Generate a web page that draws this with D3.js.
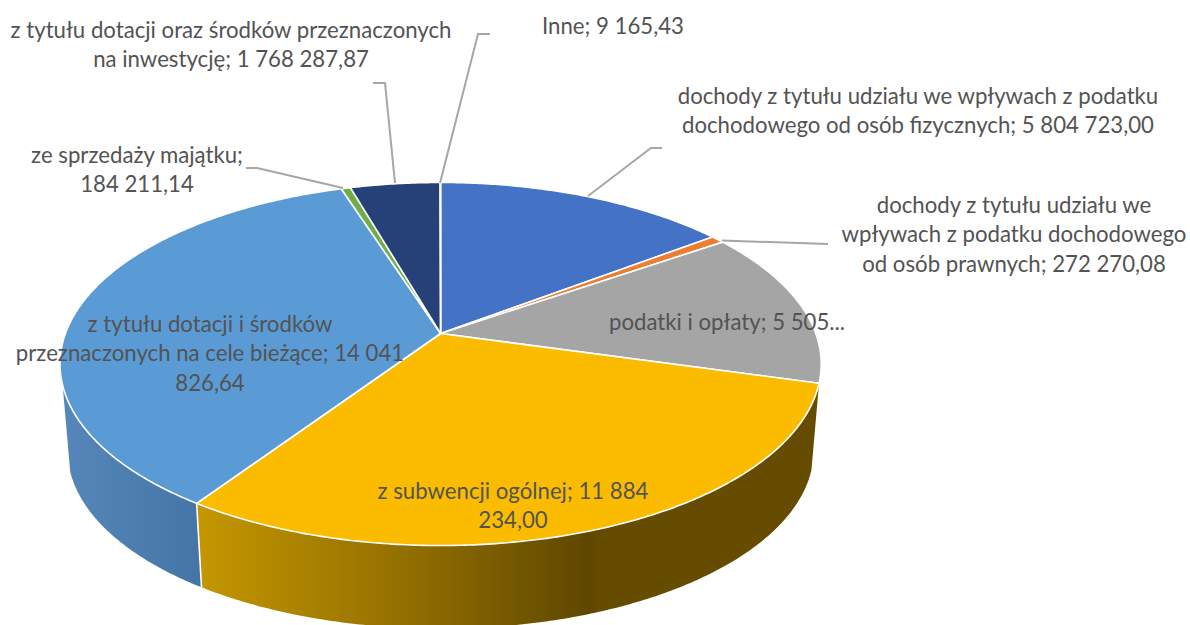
<!DOCTYPE html>
<html><head><meta charset="utf-8">
<script src="https://cdn.jsdelivr.net/npm/d3@7"></script>
<style>html,body{margin:0;padding:0;background:#fff;overflow:hidden}svg{display:block}</style>
</head><body><div id="chart"></div>
<script>
const categories = ["dochody z tytułu udziału we wpływach z podatku dochodowego od osób fizycznych","dochody z tytułu udziału we wpływach z podatku dochodowego od osób prawnych","podatki i opłaty","z subwencji ogólnej","z tytułu dotacji i środków przeznaczonych na cele bieżące","ze sprzedaży majątku","z tytułu dotacji oraz środków przeznaczonych na inwestycje","Inne"];
const values = [5804723.00,272270.08,5505000.00,11884234.00,14041826.64,184211.14,1768287.87,9165.43];
const sliceColors = ["#4472C4","#ED7D31","#A5A5A5","#FBBC00","#5B9BD5","#70AD47","#254177","#9E480E"];
const labelLines = [
 ["dochody z tytułu udziału we wpływach z podatku","dochodowego od osób fizycznych; 5 804 723,00"],
 ["dochody z tytułu udziału we","wpływach z podatku dochodowego","od osób prawnych; 272 270,08"],
 ["podatki i opłaty; 5 505..."],
 ["z subwencji ogólnej; 11 884","234,00"],
 ["z tytułu dotacji i środków","przeznaczonych na cele bieżące; 14 041","826,64"],
 ["ze sprzedaży majątku;","184 211,14"],
 ["z tytułu dotacji oraz środków przeznaczonych","na inwestycję; 1 768 287,87"],
 ["Inne; 9 165,43"]
];
// layout (not data)
const labelX = [918,1014,727,513,210,137,231,613];
const labelY = [104,213,330,499,332,163,38,34];
const lineGap = 29.3;
const leaders = [
 [[588,196],[651,148],[662,148]],
 [[722,240.5],[828,244]],
 null,null,null,
 [[343,188],[257,168],[246,168]],
 [[395,183],[385,83],[373,83]],
 [[440,183],[478,34],[490,34]]
];
const W=1190,H=625,cx=440.6,cy=333.5,k=0.168,a=375.2,b=176.4,wallScale=0.98,wallCy=420.9;
const svg=d3.select("#chart").append("svg").attr("width",W).attr("height",H);
const defs=svg.append("defs");
function grad(id,stops,x1,x2){
  const g=defs.append("linearGradient").attr("id",id).attr("gradientUnits","userSpaceOnUse")
    .attr("x1",x1).attr("x2",x2).attr("y1",0).attr("y2",0);
  stops.forEach(s=>g.append("stop").attr("offset",s[0]).attr("stop-color",s[1]));
}
grad("wallY",[[0,"#C49600"],[0.55,"#8F6C00"],[0.97,"#5F4700"],[1,"#664C00"]],200,600);
grad("wallB",[[0,"#5587BA"],[1,"#4475A6"]],62,200);
const pie=d3.pie().sort(null).startAngle(0).endAngle(2*Math.PI);
const arcs=pie(values);
function proj(t){const u=Math.sin(t),v=Math.cos(t),d=1+k*v;return [cx+a*u/d,cy-b*v/d];}
function low(t){const p=proj(t);return [cx+wallScale*(p[0]-cx),wallCy+wallScale*(p[1]-cy)];}
function samples(t0,t1){const n=Math.max(2,Math.ceil(Math.abs(t1-t0)/0.01));return d3.range(n+1).map(i=>t0+(t1-t0)*i/n);}
const line=d3.line();
// walls
const blueEdge=253.7*Math.PI/180;
const walls=[{i:3,fill:"url(#wallY)"},{i:4,fill:"url(#wallB)"}];
svg.append("g").selectAll("path").data(walls).join("path")
 .attr("d",w=>{const t0=arcs[w.i].startAngle,t1=w.i===4?blueEdge:arcs[w.i].endAngle,s=samples(t0,t1);
   return line(s.map(proj).concat(s.slice().reverse().map(low)))+"Z";})
 .attr("fill",w=>w.fill);
// seam between walls
const seamT=arcs[3].endAngle;
svg.append("path").attr("d",line([proj(seamT),low(seamT)])).attr("stroke","#fff").attr("stroke-width",1.6).attr("fill","none");
// top face
svg.append("g").selectAll("path").data(arcs).join("path")
 .attr("d",d=>line([[cx,cy]].concat(samples(d.startAngle,d.endAngle).map(proj)))+"Z")
 .attr("fill",(d,i)=>sliceColors[i]).attr("stroke","#fff").attr("stroke-width",1.6).attr("stroke-linejoin","round");
// leaders
svg.append("g").selectAll("path").data(leaders.filter(Boolean)).join("path")
 .attr("d",d=>line(d)).attr("fill","none").attr("stroke","#A6A6A6").attr("stroke-width",2);
// labels
const texts=svg.append("g").attr("font-family","Lato, 'Open Sans', sans-serif").attr("font-size",22.2).attr("fill","#535353").attr("text-anchor","middle")
 .selectAll("text").data(labelLines).join("text").attr("aria-label",(d,i)=>categories[i]);
texts.selectAll("tspan").data((d,i)=>d.map((s,j)=>({s,i,j}))).join("tspan")
 .attr("x",d=>labelX[d.i]).attr("y",d=>labelY[d.i]+d.j*lineGap).text(d=>d.s);
</script></body></html>
